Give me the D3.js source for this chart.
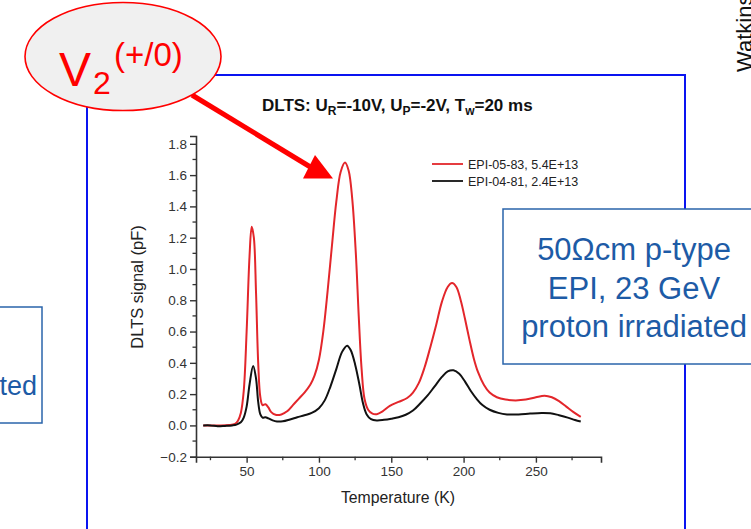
<!DOCTYPE html>
<html>
<head>
<meta charset="utf-8">
<script src="https://cdn.jsdelivr.net/npm/d3@7"></script>
<style>
  body { margin: 0; background: #fff; }
  svg { display: block; font-family: "Liberation Sans", Arial, sans-serif; }
</style>
</head>
<body>
<div class="chart"></div>
<script>
// DLTS spectra (temperature in K, signal in pF)
var redTemp = [20, 30, 38, 42, 44, 46, 48, 50, 52, 53.5, 55, 56.5, 58, 59.5, 61, 63, 65, 67, 70, 74, 78, 82, 86, 90, 94, 97, 100, 103, 106, 109, 112, 115, 118, 120.5, 123, 125.5, 127.5, 129.5, 131.5, 134, 137, 140, 144, 149, 155, 161, 165, 169, 173, 177, 181, 185, 189, 192, 195, 198, 201, 204, 207, 210, 214, 218, 223, 229, 236, 243, 250, 256, 261, 266, 271, 276, 281];
var redSignal = [0, 0, 0.002, 0.01, 0.03, 0.08, 0.22, 0.6, 1.08, 1.27, 1.2, 0.85, 0.4, 0.18, 0.13, 0.135, 0.115, 0.085, 0.068, 0.07, 0.09, 0.13, 0.17, 0.21, 0.26, 0.32, 0.42, 0.6, 0.86, 1.15, 1.43, 1.62, 1.68, 1.63, 1.45, 1.1, 0.7, 0.36, 0.17, 0.1, 0.075, 0.072, 0.09, 0.125, 0.15, 0.175, 0.21, 0.27, 0.37, 0.5, 0.64, 0.79, 0.885, 0.91, 0.885, 0.8, 0.68, 0.55, 0.43, 0.34, 0.26, 0.21, 0.18, 0.165, 0.16, 0.165, 0.18, 0.19, 0.18, 0.155, 0.12, 0.085, 0.055];

var blackTemp = [20, 25, 30, 35, 40, 43, 46, 48, 50, 52, 54.5, 56.5, 58, 59.5, 61, 63, 65, 68, 71, 75, 80, 85, 90, 95, 100, 104, 108, 112, 116, 119.5, 122, 125, 128, 130.5, 133, 136, 140, 145, 150, 155, 160, 165, 170, 175, 180, 185, 189, 193, 197, 201, 205, 209, 213, 218, 224, 230, 238, 246, 254, 260, 266, 272, 277, 281];
var blackSignal = [0, 0, -0.005, -0.003, 0, 0.005, 0.02, 0.05, 0.12, 0.26, 0.38, 0.3, 0.15, 0.07, 0.05, 0.052, 0.045, 0.032, 0.025, 0.026, 0.038, 0.052, 0.065, 0.08, 0.11, 0.16, 0.25, 0.36, 0.47, 0.51, 0.48, 0.39, 0.26, 0.14, 0.07, 0.04, 0.032, 0.036, 0.043, 0.052, 0.068, 0.095, 0.14, 0.19, 0.25, 0.31, 0.345, 0.352, 0.33, 0.28, 0.22, 0.17, 0.13, 0.1, 0.08, 0.07, 0.07, 0.076, 0.08, 0.078, 0.065, 0.05, 0.035, 0.025];

var seriesNames = ["EPI-05-83, 5.4E+13", "EPI-04-81, 2.4E+13"];
var seriesColors = ["#e3262b", "#111111"];
var xTicks = [50, 100, 150, 200, 250];
var xMinor = [25, 75, 125, 175, 225, 275];
var yTicks = [-0.2, 0, 0.2, 0.4, 0.6, 0.8, 1.0, 1.2, 1.4, 1.6, 1.8];
var yMinor = [-0.1, 0.1, 0.3, 0.5, 0.7, 0.9, 1.1, 1.3, 1.5, 1.7];

var svgWidth = 751;
var svgHeight = 529;

var svg = d3.select(".chart")
  .append("svg")
  .attr("width", svgWidth)
  .attr("height", svgHeight);

svg.append("rect").attr("width", svgWidth).attr("height", svgHeight).attr("fill", "#fff");

// blue frame round the chart
svg.append("path")
  .attr("d", "M87,540 L87,75 L685,75 L685,540")
  .attr("fill", "none")
  .attr("stroke", "#0a14f0")
  .attr("stroke-width", 2);

// scales
var x = d3.scaleLinear().domain([15, 295]).range([196, 601]);
var y = d3.scaleLinear().domain([-0.2, 1.85]).range([456.7, 136]);

var bottomAxis = d3.axisBottom(x).tickValues(xTicks).tickSize(6).tickPadding(4).tickFormat(d3.format("d"));
var leftAxis = d3.axisLeft(y).tickValues(yTicks).tickSize(6).tickPadding(3).tickFormat(d3.format(".1f"));

var xAxis = svg.append("g")
  .attr("transform", "translate(0," + y(-0.2) + ")")
  .call(bottomAxis);
xAxis.append("g").selectAll("line")
  .data(xMinor)
  .enter()
  .append("line")
  .attr("x1", d => x(d)).attr("x2", d => x(d))
  .attr("y1", 0).attr("y2", 3.5)
  .attr("stroke", "#333").attr("stroke-width", 1.3);

var yAxis = svg.append("g")
  .attr("transform", "translate(" + x(15) + ",0)")
  .call(leftAxis);
yAxis.append("g").selectAll("line")
  .data(yMinor)
  .enter()
  .append("line")
  .attr("y1", d => y(d)).attr("y2", d => y(d))
  .attr("x1", 0).attr("x2", -3.5)
  .attr("stroke", "#333").attr("stroke-width", 1.3);

[xAxis, yAxis].forEach(function(g) {
  g.select(".domain").attr("stroke", "#333").attr("stroke-width", 1.6);
  g.selectAll(".tick line").attr("stroke", "#333").attr("stroke-width", 1.4);
  g.selectAll(".tick text")
    .attr("fill", "#333")
    .style("font-size", "13.5px")
    .style("font-family", "'Liberation Sans', Arial, sans-serif");
});

// axis titles
svg.append("text")
  .attr("x", 398).attr("y", 503)
  .attr("text-anchor", "middle")
  .attr("fill", "#222")
  .style("font-size", "15.8px")
  .text("Temperature (K)");

svg.append("text")
  .attr("transform", "translate(143,287) rotate(-90)")
  .attr("text-anchor", "middle")
  .attr("fill", "#222")
  .style("font-size", "16.5px")
  .text("DLTS signal (pF)");

// chart title with subscripts
var title = svg.append("text")
  .attr("x", 262).attr("y", 111)
  .attr("fill", "#111")
  .style("font-size", "17px")
  .style("font-weight", "bold");
var titleParts = [["DLTS: U", 0], ["R", 1], ["=-10V, U", 0], ["P", 1], ["=-2V, T", 0], ["w", 1], ["=20 ms", 0]];
var lastSub = 0;
titleParts.forEach(function(p) {
  var t = title.append("tspan").text(p[0]);
  if (p[1] !== lastSub) t.attr("dy", p[1] ? 4 : -4);
  if (p[1]) t.style("font-size", "12px");
  lastSub = p[1];
});

// curves
var line = d3.line()
  .x(d => x(d[0]))
  .y(d => y(d[1]))
  .curve(d3.curveCatmullRom.alpha(0.5));

var series = [d3.zip(redTemp, redSignal), d3.zip(blackTemp, blackSignal)];

svg.append("g").selectAll("path")
  .data(series)
  .enter()
  .append("path")
  .attr("d", line)
  .attr("fill", "none")
  .attr("stroke", (d, i) => seriesColors[i])
  .attr("stroke-width", 2)
  .attr("stroke-linejoin", "round");

// legend
var legend = svg.append("g").selectAll("g")
  .data(seriesNames)
  .enter()
  .append("g")
  .attr("transform", (d, i) => "translate(432," + (164 + i * 17) + ")");
legend.append("line")
  .attr("x1", 0).attr("x2", 31)
  .attr("stroke", (d, i) => seriesColors[i])
  .attr("stroke-width", 1.8);
legend.append("text")
  .attr("x", 36).attr("y", 4.5)
  .attr("fill", "#222")
  .style("font-size", "12.5px")
  .text(d => d);

// red arrow to the V2 peak
svg.append("line")
  .attr("x1", 192).attr("y1", 95)
  .attr("x2", 312).attr("y2", 168)
  .attr("stroke", "#ff0000")
  .attr("stroke-width", 5);
svg.append("polygon")
  .attr("points", "333,178.5 315,155 303,178.5")
  .attr("fill", "#ff0000");

// V2 ellipse
svg.append("ellipse")
  .attr("cx", 123).attr("cy", 56.5)
  .attr("rx", 98).attr("ry", 54)
  .attr("fill", "#f0f0f0")
  .attr("stroke", "#ff0000")
  .attr("stroke-width", 1.6);
svg.append("text").attr("x", 59).attr("y", 86).attr("fill", "#ff0000")
  .style("font-size", "48px").text("V");
svg.append("text").attr("x", 93).attr("y", 94).attr("fill", "#ff0000")
  .style("font-size", "32px").text("2");
svg.append("text").attr("x", 114).attr("y", 66).attr("fill", "#ff0000")
  .style("font-size", "33px").text("(+/0)");

// sample text boxes
svg.append("rect")
  .attr("x", 503).attr("y", 209).attr("width", 270).attr("height", 155)
  .attr("fill", "#fff").attr("stroke", "#2a64ab").attr("stroke-width", 1.5);
var boxLines = ["50\u03A9cm p-type", "EPI, 23 GeV", "proton irradiated"];
svg.append("g").selectAll("text")
  .data(boxLines)
  .enter()
  .append("text")
  .attr("x", 634)
  .attr("y", (d, i) => 260 + i * 38.5)
  .attr("text-anchor", "middle")
  .attr("fill", "#1d5ba6")
  .style("font-size", "31px")
  .text(d => d);

svg.append("rect")
  .attr("x", -200).attr("y", 307).attr("width", 242).attr("height", 116)
  .attr("fill", "#fff").attr("stroke", "#2a64ab").attr("stroke-width", 1.5);
svg.append("text")
  .attr("x", 37).attr("y", 395)
  .attr("text-anchor", "end")
  .attr("fill", "#1d5ba6")
  .style("font-size", "27px")
  .text("irradiated");

// side caption
svg.append("text")
  .attr("transform", "translate(752,72) rotate(-90)")
  .attr("fill", "#111")
  .style("font-size", "22px")
  .text("Watkins");
</script>
</body>
</html>
